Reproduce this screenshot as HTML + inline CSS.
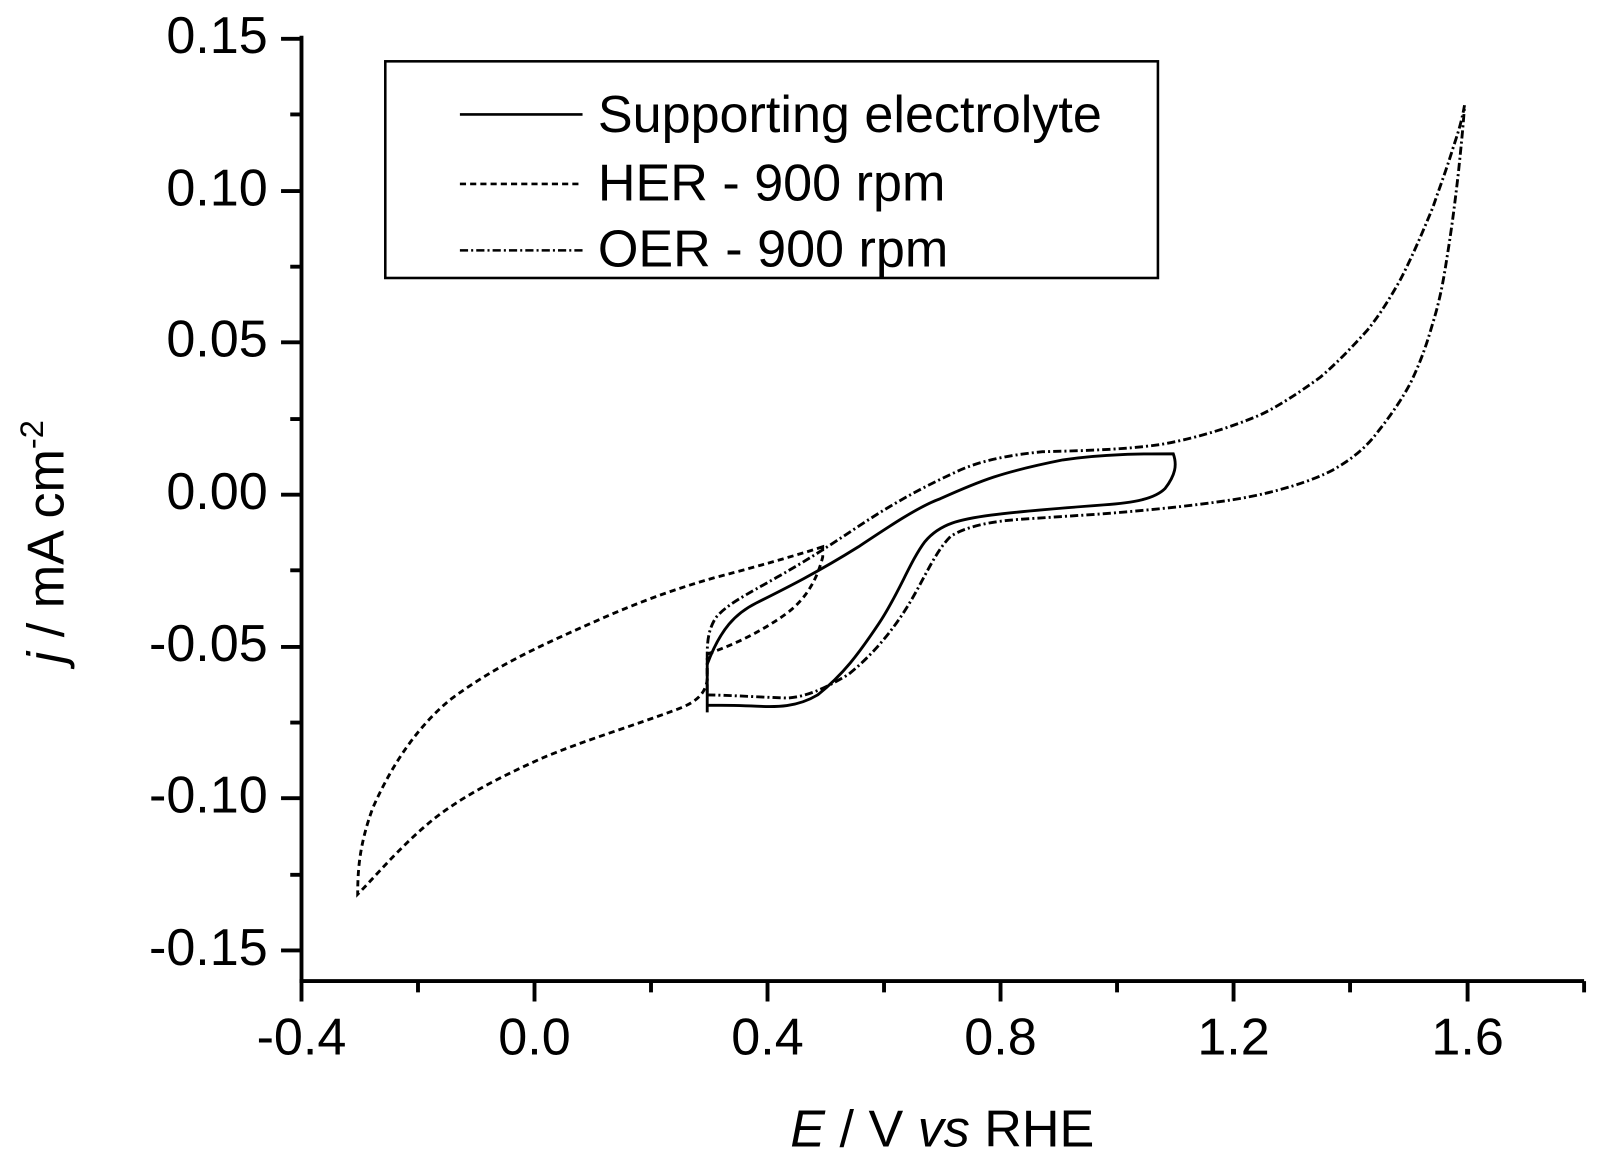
<!DOCTYPE html>
<html><head><meta charset="utf-8"><style>body{margin:0;background:#fff}svg{display:block}text{font-family:"Liberation Sans",Arial,sans-serif;fill:#000}</style></head>
<body>
<svg width="1601" height="1162" viewBox="0 0 1601 1162" xmlns="http://www.w3.org/2000/svg">
<g transform="scale(1.022)">
<g stroke="#000" stroke-width="3.8" fill="none">
<line x1="295" y1="35" x2="295" y2="960"/>
<line x1="293" y1="960" x2="1550" y2="960"/>
<path d="M295 960v20M409 960v11M523 960v20M637 960v11M751 960v20M865 960v11M979 960v20M1093 960v11M1207 960v20M1321 960v11M1436 960v20M1550 960v11"/>
<path d="M295 38h-20M295 112h-11M295 187h-20M295 261h-11M295 335h-20M295 410h-11M295 484h-20M295 558h-11M295 633h-20M295 707h-11M295 781h-20M295 856h-11M295 930h-20"/>
</g>
<g font-size="51" text-anchor="end">
<text x="262" y="52">0.15</text><text x="262" y="201">0.10</text><text x="262" y="349">0.05</text><text x="262" y="498">0.00</text><text x="262" y="647">-0.05</text><text x="262" y="795">-0.10</text><text x="262" y="944">-0.15</text>
</g>
<g font-size="51" text-anchor="middle">
<text x="295" y="1032">-0.4</text><text x="523" y="1032">0.0</text><text x="751" y="1032">0.4</text><text x="979" y="1032">0.8</text><text x="1207" y="1032">1.2</text><text x="1436" y="1032">1.6</text>
<text x="922" y="1122"><tspan font-style="italic">E</tspan> / V <tspan font-style="italic">vs</tspan> RHE</text>
</g>
<text font-size="51" transform="translate(62,530) rotate(-90)" text-anchor="middle"><tspan font-style="italic">j</tspan> / mA cm<tspan font-size="32" dy="-20">-2</tspan></text>
<rect x="377" y="60" width="756" height="212" fill="none" stroke="#000" stroke-width="2.5"/>
<g stroke="#000" stroke-width="2.5" fill="none">
<line x1="450" y1="112" x2="570" y2="112"/>
<line x1="450" y1="180" x2="570" y2="180" stroke-dasharray="6,4"/>
<line x1="450" y1="245" x2="570" y2="245" stroke-dasharray="8,3,2,3"/>
</g>
<g font-size="51"><text x="585" y="129">Supporting electrolyte</text><text x="585" y="196">HER - 900 rpm</text><text x="585" y="261">OER - 900 rpm</text></g>
<g fill="none" stroke="#000" stroke-width="2.8">
<path d="M692 697L692 650C705 615 720 600 740 590C770 575 800 560 840 535C870 515 900 495 920 488C960 470 980 462 1040 450C1080 444 1120 444 1148 444C1152 455 1150 465 1140 478C1130 488 1110 492 1080 494C1040 497 1000 500 970 504C940 508 920 512 905 530C890 550 880 580 860 610C840 640 825 660 800 680C780 692 760 692 740 691C720 690 705 690 692 690"/>
<path stroke-dasharray="6,4" d="M805 535C790 540 750 552 700 565C640 582 600 600 560 618C520 636 480 655 440 685C410 710 385 745 365 790C352 825 350 850 350 875C365 860 390 830 420 805C450 780 490 760 530 742C570 725 620 710 660 695C680 688 690 680 692 665L692 640C720 630 745 618 770 600C790 585 800 565 805 545Z"/>
<path stroke-dasharray="8,3,2,3" d="M692 680C710 680 740 682 770 683C790 682 810 672 830 660C855 640 875 615 890 590C905 565 915 540 930 525C945 515 970 510 1000 508L1076 503C1140 498 1180 493 1206 489C1250 482 1285 470 1304 460C1325 448 1337 437 1347 424C1362 405 1372 390 1380 375C1392 350 1397 333 1402 316C1410 290 1413 270 1416 251C1421 220 1424 195 1427 169C1430 140 1432 120 1433 103C1430 120 1426 132 1422 144C1414 170 1408 185 1402 203C1390 232 1380 255 1370 274C1360 292 1350 308 1338 323C1320 343 1305 358 1292 369C1270 385 1250 398 1233 406C1200 420 1165 430 1135 435C1100 440 1060 441 1020 442C990 445 960 450 935 462C900 478 870 495 840 515C810 535 790 548 760 565C730 582 710 592 700 605C694 615 692 625 692 640Z"/>
</g>
</g>
</svg>
</body></html>
